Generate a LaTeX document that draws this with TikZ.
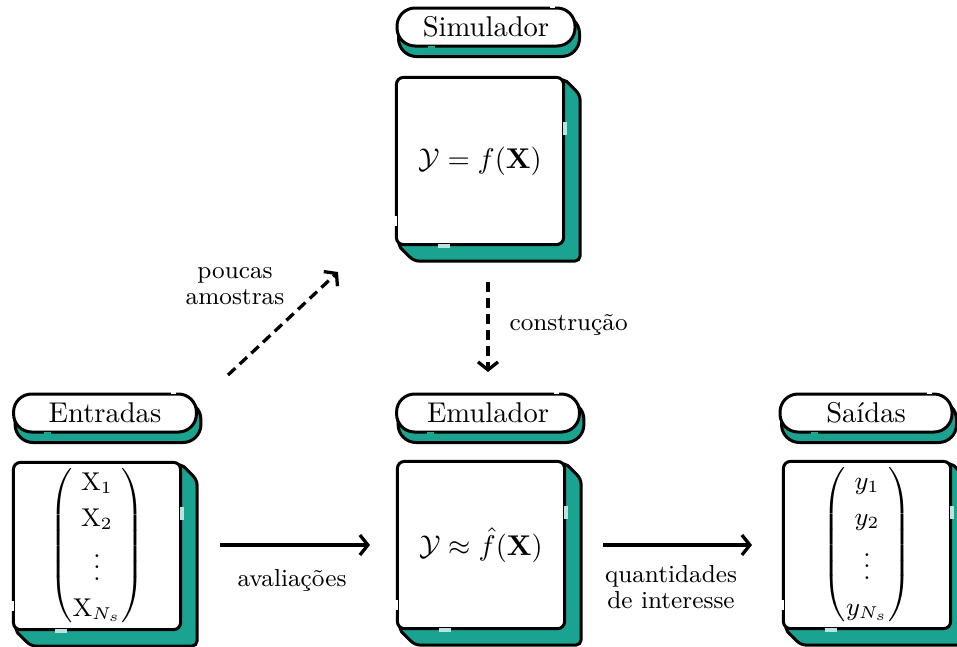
\documentclass[tikz,border=0pt]{standalone}
\usepackage{amsmath}
\usetikzlibrary{arrows.meta,calc,backgrounds}
\definecolor{tealc}{RGB}{27,163,146}
\newcommand\boxshadow[1]{%
  \filldraw[fill=tealc,draw=black,line width=1.05pt,rounded corners=1.8pt]
    ($(#1.north east)+(-2,2)$) -- ($(#1.north east)+(15,19)$) --
    ($(#1.south east)+(15,15)$) -- ($(#1.south west)+(19,15)$) --
    ($(#1.south west)+(2,-2)$) -- cycle;}
\newcommand\pillshadow[1]{%
  \filldraw[fill=tealc,draw=black,line width=1.05pt,rounded corners=6.3pt]
    ($(#1.south west)+(3,9)$) rectangle ($(#1.north east)+(3,9)$);}
\newcommand\boxgaps[1]{%
  \draw[tealc!30,line width=1.15pt] ($(#1.north east)+(0,46)$) -- ++(0,13);
  \draw[white,line width=1.15pt] ($(#1.south west)+(0,-30)$) -- ++(0,10);
  \draw[tealc!30,line width=1.15pt] ($(#1.south west)+(43,0)$) -- ++(12,0);}
\newcommand\pillgaps[1]{%
  \draw[white,line width=1.15pt] ($(#1.north east)+(-27,0)$) -- ++(5,0);
  \draw[tealc,line width=1.15pt] ($(#1.south west)+(32,0)$) -- ++(7,0);}
\newcommand\vecfont{\fontsize{9}{11}\selectfont\renewcommand\arraystretch{1.15}}
\begin{document}
\begin{tikzpicture}[x=0.35pt,y=-0.35pt,
  box/.style={draw,fill=white,line width=1.05pt,rounded corners=2.4pt,
    minimum width=58.5pt,minimum height=58.5pt,inner sep=0pt,
    font=\fontsize{10}{12}\selectfont},
  pill/.style={draw,fill=white,line width=1.05pt,rounded corners=6.3pt,
    minimum height=13.3pt,inner sep=0pt,font=\fontsize{10}{12}\selectfont},
  lab/.style={font=\fontsize{8.6}{9.2}\selectfont,align=center,inner sep=0pt},
  arr/.style={line width=1.15pt,-{Straight Barb[length=2.8pt,width=7pt,line width=1.15pt]}},
  darr/.style={arr,dash pattern=on 3.5pt off 2.1pt}]
\useasboundingbox (0,0) rectangle (957,646);

% boxes
\node[box] (sim) at (480,161) {$\mathcal{Y}=f(\mathbf{X})$};
\node[box,font=\vecfont] (ent) at (97,546)
  {$\begin{pmatrix}\mathrm{X}_1\\ \mathrm{X}_2\\ \vdots\\ \mathrm{X}_{N_s}\end{pmatrix}$};
\node[box] (emu) at (481,545) {$\mathcal{Y}\approx\hat{f}(\mathbf{X})$};
\node[box,font=\vecfont] (sai) at (867,545)
  {$\begin{pmatrix}y_1\\ y_2\\ \vdots\\ y_{N_s}\end{pmatrix}$};

% pills
\node[pill,minimum width=62.3pt] (psim) at (486,27) {Simulador};
\node[pill,minimum width=64pt] (pent) at (105,413) {Entradas};
\node[pill,minimum width=64pt] (pemu) at (488,413) {Emulador};
\node[pill,minimum width=60.2pt] (psai) at (866,413) {Saídas};

\begin{scope}[on background layer]
  \foreach \n in {sim,ent,emu,sai} {\boxshadow{\n}}
  \foreach \n in {psim,pent,pemu,psai} {\pillshadow{\n}}
\end{scope}
\foreach \n in {sim,ent,emu,sai} {\boxgaps{\n}}
\foreach \n in {psim,pent,pemu,psai} {\pillgaps{\n}}

% connectors
\coordinate (d1s) at (228,375);
\coordinate (d1e) at (338,272);
\coordinate (d2s) at (488,282);
\coordinate (d2e) at (488,372);
\coordinate (s1s) at (220,545);
\coordinate (s1e) at (370,545);
\coordinate (s2s) at (603,545);
\coordinate (s2e) at (752,545);
\draw[darr] (d1s) -- (d1e);
\draw[darr] (d2s) -- (d2e);
\draw[arr] (s1s) -- (s1e);
\draw[arr] (s2s) -- (s2e);

% labels
\node[lab] (lpa) at (235,286) {poucas\\amostras};
\node[lab,anchor=west] (lco) at (509,325) {construção};
\node[lab] (lav) at (292,580) {avaliações};
\node[lab] (lqi) at (671,587) {quantidades\\de interesse};
\end{tikzpicture}
\end{document}
